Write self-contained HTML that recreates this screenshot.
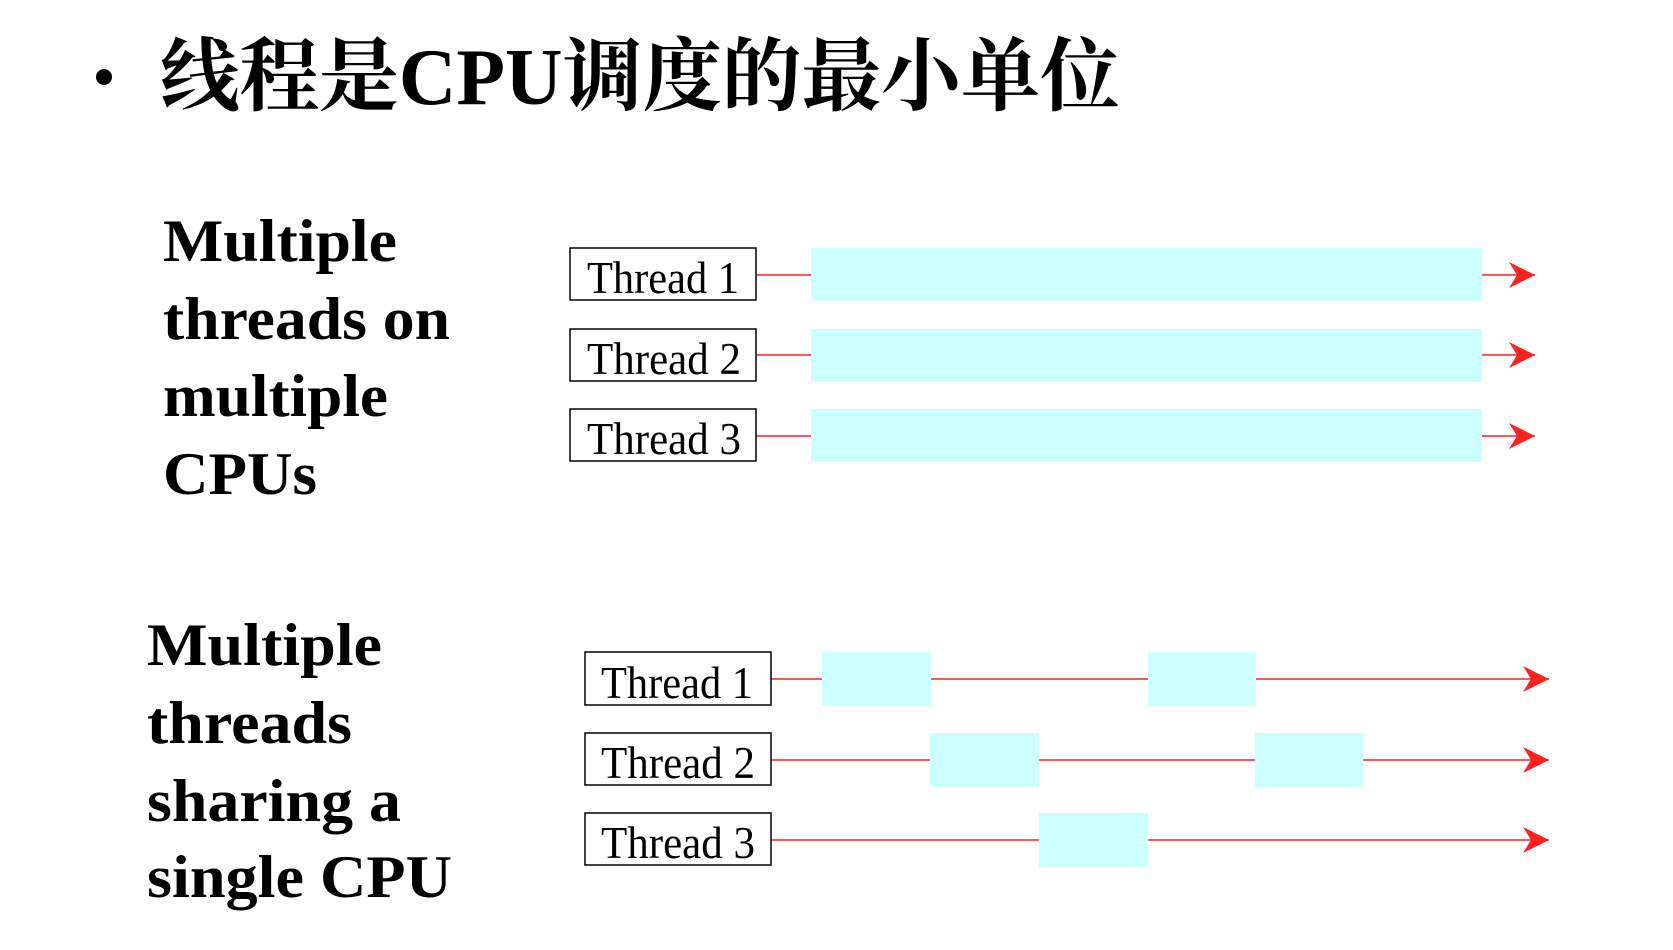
<!DOCTYPE html>
<html><head><meta charset="utf-8"><style>
html,body{margin:0;padding:0;background:#fff;}
svg{display:block}
</style></head><body>
<svg width="1673" height="950" viewBox="0 0 1673 950" xmlns="http://www.w3.org/2000/svg">
<defs>
<marker id="ah" markerWidth="30" markerHeight="30" refX="26" refY="13" orient="auto" markerUnits="userSpaceOnUse">
<path d="M0,0 L26,13 L0,26 L8,13 Z" fill="#ff2020"/>
</marker>
</defs>
<circle cx="104" cy="77" r="8" fill="#000"/>
<text x="160" y="104" font-family="'Liberation Serif','Noto Serif CJK SC',serif" font-size="80" font-weight="bold" textLength="960" lengthAdjust="spacingAndGlyphs">线程是CPU调度的最小单位</text>

<g font-family="'Liberation Serif',serif" font-weight="bold" font-size="60" fill="#000" lengthAdjust="spacingAndGlyphs">
<text x="163" y="261" textLength="234" lengthAdjust="spacingAndGlyphs">Multiple</text>
<text x="163" y="339" textLength="287" lengthAdjust="spacingAndGlyphs">threads on</text>
<text x="163" y="416" textLength="225" lengthAdjust="spacingAndGlyphs">multiple</text>
<text x="163" y="494" textLength="154" lengthAdjust="spacingAndGlyphs">CPUs</text>
<text x="147" y="665" textLength="235" lengthAdjust="spacingAndGlyphs">Multiple</text>
<text x="147" y="743" textLength="205" lengthAdjust="spacingAndGlyphs">threads</text>
<text x="147" y="821" textLength="254" lengthAdjust="spacingAndGlyphs">sharing a</text>
<text x="147" y="897" textLength="305" lengthAdjust="spacingAndGlyphs">single CPU</text>
</g>

<g transform="translate(-3,-1)">
<g fill="#ccffff">
<rect x="814" y="249" width="671" height="53"/>
<rect x="814" y="330" width="671" height="53"/>
<rect x="814" y="410" width="671" height="53"/>
<rect x="825" y="653" width="109" height="54"/>
<rect x="1151" y="653" width="108" height="54"/>
<rect x="933" y="734" width="109" height="54"/>
<rect x="1258" y="734" width="108" height="54"/>
<rect x="1042" y="814" width="109" height="54"/>
</g>

<g stroke="#ff2020" stroke-width="1.5" fill="none">
<line x1="759" y1="276" x2="814" y2="276"/>
<line x1="759" y1="356" x2="814" y2="356"/>
<line x1="759" y1="437" x2="814" y2="437"/>
<line x1="1485" y1="276" x2="1538" y2="276" marker-end="url(#ah)"/>
<line x1="1485" y1="356" x2="1538" y2="356" marker-end="url(#ah)"/>
<line x1="1485" y1="437" x2="1538" y2="437" marker-end="url(#ah)"/>
<line x1="771" y1="680" x2="825" y2="680"/>
<line x1="934" y1="680" x2="1151" y2="680"/>
<line x1="1259" y1="680" x2="1552" y2="680" marker-end="url(#ah)"/>
<line x1="771" y1="761" x2="933" y2="761"/>
<line x1="1042" y1="761" x2="1258" y2="761"/>
<line x1="1366" y1="761" x2="1552" y2="761" marker-end="url(#ah)"/>
<line x1="771" y1="841" x2="1042" y2="841"/>
<line x1="1151" y1="841" x2="1552" y2="841" marker-end="url(#ah)"/>
</g>

<g fill="#fff" stroke="#000" stroke-width="1.5">
<rect x="573" y="249" width="186" height="52"/>
<rect x="573" y="330" width="186" height="52"/>
<rect x="573" y="410" width="186" height="52"/>
<rect x="588" y="653" width="186" height="53"/>
<rect x="588" y="734" width="186" height="52"/>
<rect x="588" y="814" width="186" height="52"/>
</g>
<g font-family="'Liberation Serif',serif" font-size="45" fill="#000">
<text x="590" y="294" textLength="152" lengthAdjust="spacingAndGlyphs">Thread 1</text>
<text x="590" y="375" textLength="154" lengthAdjust="spacingAndGlyphs">Thread 2</text>
<text x="590" y="455" textLength="154" lengthAdjust="spacingAndGlyphs">Thread 3</text>
<text x="604" y="699" textLength="152" lengthAdjust="spacingAndGlyphs">Thread 1</text>
<text x="604" y="779" textLength="154" lengthAdjust="spacingAndGlyphs">Thread 2</text>
<text x="604" y="859" textLength="154" lengthAdjust="spacingAndGlyphs">Thread 3</text>
</g>
</g>
</svg>
</body></html>
